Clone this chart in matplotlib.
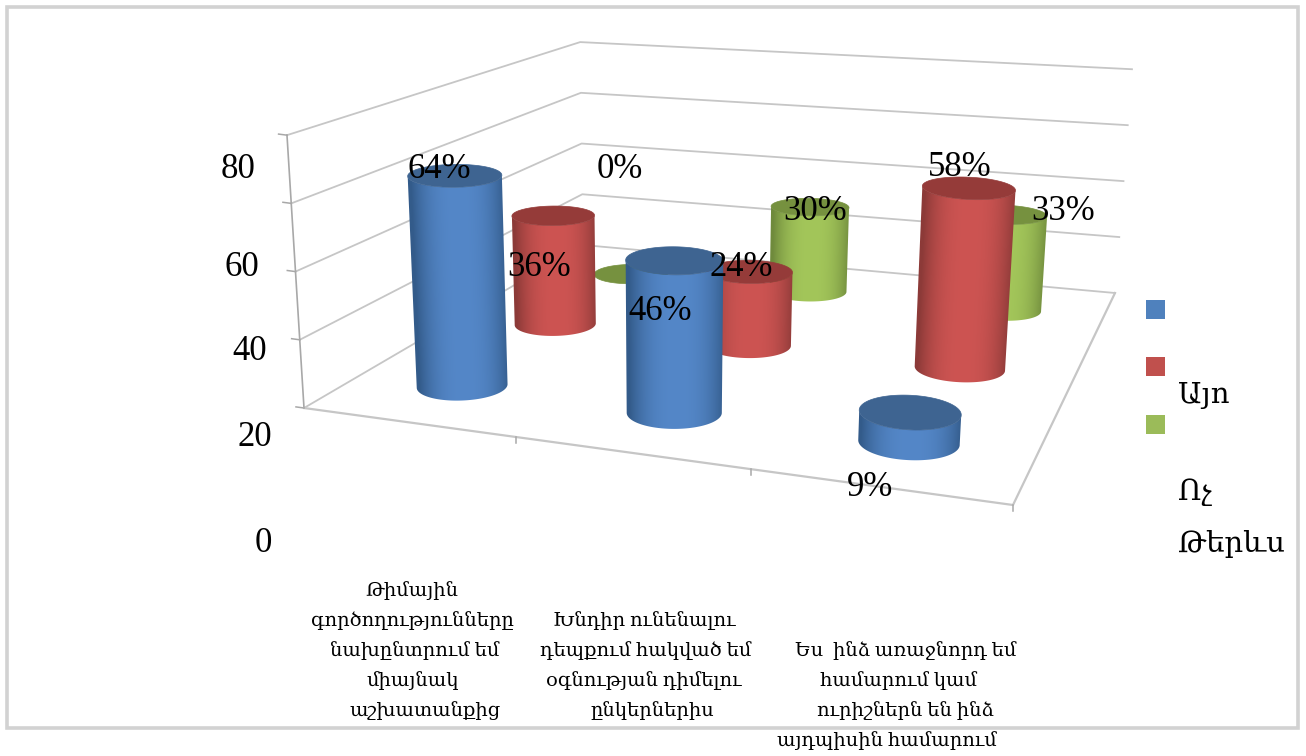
import numpy as np
import matplotlib
matplotlib.use('Agg')
import matplotlib.pyplot as plt
from matplotlib.colors import to_rgb
from matplotlib.patches import Polygon, Rectangle

plt.rcParams['font.family'] = ['Liberation Serif', 'DejaVu Serif']

# survey results, percent per statement
blue_values = [64, 46, 9]
red_values = [36, 24, 58]
green_values = [0, 30, 33]
legend_names = ['Այո', 'Ոչ', 'Թերևս']
value_ticks = [0, 20, 40, 60, 80]
cat1_lines = ['Թիմային', 'գործողությունները', 'նախընտրում եմ', 'միայնակ', 'աշխատանքից']
cat2_lines = ['Խնդիր ունենալու', 'դեպքում հակված եմ', 'օգնության դիմելու', 'ընկերներիս']
cat3_lines = ['Ես  ինձ առաջնորդ եմ', 'համարում կամ', 'ուրիշներն են ինձ', 'այդպիսին համարում']

fig = plt.figure(figsize=(13.06, 7.56), dpi=100)
ax = fig.add_axes([0, 0, 1, 1])
ax.set_autoscale_on(False)
ax.set_xlim(0, 1306)
ax.set_ylim(756, 0)
ax.axis('off')


def homography(src, dst):
    A = []
    b = []
    for (x, y), (X, Y) in zip(src, dst):
        A.append([x, y, 1, 0, 0, 0, -x * X, -y * X])
        A.append([0, 0, 0, x, y, 1, -x * Y, -y * Y])
        b += [X, Y]
    return np.append(np.linalg.solve(np.array(A, float), np.array(b, float)), 1).reshape(3, 3)


# floor corners on screen: front left, front right, back right, back left
square = [(0, 0), (3, 0), (3, 3), (0, 3)]
H_floor = homography(square, [(304, 408), (1013, 505), (1115, 293), (583, 245)])
# uprights converge on one far point below the chart
VANISH = np.array([[666.0], [6213.0]])
Z_MAX = 80.0


def rise(u, v):
    # how far the full axis height reaches, bilinear over the floor
    s = u / 3
    w = v / 3
    return (1 - s) * (1 - w) * 0.047 + s * (1 - w) * 0.048 + s * w * 0.0378 + (1 - s) * w * 0.034


def project(u, v, z):
    u = np.asarray(u, float)
    v = np.asarray(v, float)
    pts = H_floor @ np.stack([u, v, np.ones_like(u)])
    p0 = pts[:2] / pts[2]
    vp = VANISH if p0.ndim == 2 else VANISH[:, 0]
    return p0 + (p0 - vp) * rise(u, v) * z / Z_MAX


GRID = '#c6c6c6'
AXIS = '#a8a8a8'

# outer frame
ax.add_patch(Rectangle((7, 7), 1291, 721, fill=False, ec='#d2d2d2', lw=2.6))

# walls and floor
for z in value_ticks:
    a = project(0, 0, z)
    b = project(0, 3, z)
    c = project(3, 3, z)
    ax.plot([a[0], b[0], c[0]], [a[1], b[1], c[1]], color=GRID, lw=1.3)
    t = project(-0.04, 0, z)
    ax.plot([t[0], a[0]], [t[1], a[1]], color=AXIS, lw=1.1)

corner = np.array([project(*p, 0) for p in [(0, 0), (3, 0), (3, 3)]])
ax.plot(corner[:, 0], corner[:, 1], color=GRID, lw=1.6)
low = project(0, 0, 0)
high = project(0, 0, 80)
ax.plot([low[0], high[0]], [low[1], high[1]], color=AXIS, lw=1.2)
for u in [1, 2, 3]:
    a = project(u, 0, 0)
    ax.plot([a[0], a[0]], [a[1], a[1] + 6], color=AXIS, lw=1.1)


def side_image(bot, top, val, edge, mid, clip):
    # horizontal shading of the wall, dark towards both silhouettes
    x0 = min(bot[0].min(), top[0].min()) - 1
    x1 = max(bot[0].max(), top[0].max()) + 1
    y0 = top[1].min() - 1
    y1 = bot[1].max() + 1
    xs = np.linspace(x0, x1, 240)
    ys = np.linspace(y0, y1, 120)
    xb, xt = bot[0].mean(), top[0].mean()
    hb = (bot[0].max() - bot[0].min()) / 2
    ht = (top[0].max() - top[0].min()) / 2
    ybm, ytm = bot[1].mean(), top[1].mean()
    f = np.clip((ys - ytm) / (ybm - ytm), 0, 1)[:, None]
    xc = xt + (xb - xt) * f
    half = ht + (hb - ht) * f
    t = np.clip((xs[None, :] - xc) / half - 0.05, -1, 1)
    w = (1 - np.abs(t) ** 2.5)[:, :, None]
    img = np.array(to_rgb(edge)) * (1 - w) + np.array(to_rgb(mid)) * w
    im = ax.imshow(img, extent=(x0, x1, y1, y0), aspect='auto', interpolation='bilinear', zorder=2)
    im.set_clip_path(clip)


def cylinder(u, v, val, edge, mid, cap):
    ang = np.linspace(0, 2 * np.pi, 361)
    cu = u + 0.2 * np.cos(ang)
    cv = v + 0.2 * np.sin(ang)
    bot = project(cu, cv, 0)
    top = project(cu, cv, val)
    if val > 0:
        lo = np.argmin(bot[0][:-1])
        hi = np.argmax(bot[0][:-1])
        # walk along the near half of the base, the part with larger screen y
        idx = np.arange(lo, hi + 361 if hi < lo else hi + 1) % 360
        if bot[1][idx].mean() < bot[1][:-1].mean():
            idx = np.arange(hi, lo + 361 if lo < hi else lo + 1) % 360
        outline = np.vstack([bot[:, idx].T, top[:, idx[::-1]].T])
        clip = Polygon(outline, closed=True, transform=ax.transData)
        side_image(bot, top, val, edge, mid, clip)
    ax.fill(top[0], top[1], color=cap, lw=0.5, zorder=2)


# green row is furthest back, blue nearest
rows = [
    (green_values, 2.5, '#6f8a3c', '#a3c65a', '#76913f'),
    (red_values, 1.5, '#8c3a38', '#cd5452', '#953b39'),
    (blue_values, 0.5, '#335b8a', '#5487c8', '#3e6491'),
]
for vals, v, edge, mid, cap in rows:
    for i, val in enumerate(vals):
        cylinder(i + 0.5, v, val, edge, mid, cap)

# value labels
label_fs = 25
blue_pos = [(439, 169), (660, 311), (870, 488)]
red_pos = [(539, 267), (741, 267), (960, 168)]
green_pos = [(620, 169), (815, 212), (1063, 212)]
for vals, pos in zip([blue_values, red_values, green_values], [blue_pos, red_pos, green_pos]):
    for val, (x, y) in zip(vals, pos):
        ax.text(x, y, f'{val}%', ha='center', va='center', fontsize=label_fs, color='black', zorder=5)

# value axis labels sit well away from the ticks
tick_pos = [(272, 543), (272, 437), (267, 352), (259, 267), (255, 169)]
for z, (x, y) in zip(value_ticks, tick_pos):
    ax.text(x, y, str(z), ha='right', va='center', fontsize=label_fs, color='black')

# category labels, one text per line since the lines do not share a centre
cat_fs = 14
cat_layout = [
    (cat1_lines, [412, 412, 415, 413, 425], 596),
    (cat2_lines, [644, 646, 644, 652], 626),
    (cat3_lines, [906, 899, 905, 887], 656),
]
for lines, centres, y0 in cat_layout:
    for k, (line, xc) in enumerate(zip(lines, centres)):
        ax.text(xc, y0 + k * 30, line, ha='center', va='baseline', fontsize=cat_fs, color='black')

# legend
for y, col in zip([300, 357, 415], ['#4f81bd', '#c0504d', '#9bbb59']):
    ax.add_patch(Rectangle((1146, y), 19, 19, fc=col, ec='none'))
for name, y in zip(legend_names, [403, 500, 552]):
    ax.text(1178, y, name, ha='left', va='baseline', fontsize=21, color='black')

fig.savefig('out.png', dpi=100)
